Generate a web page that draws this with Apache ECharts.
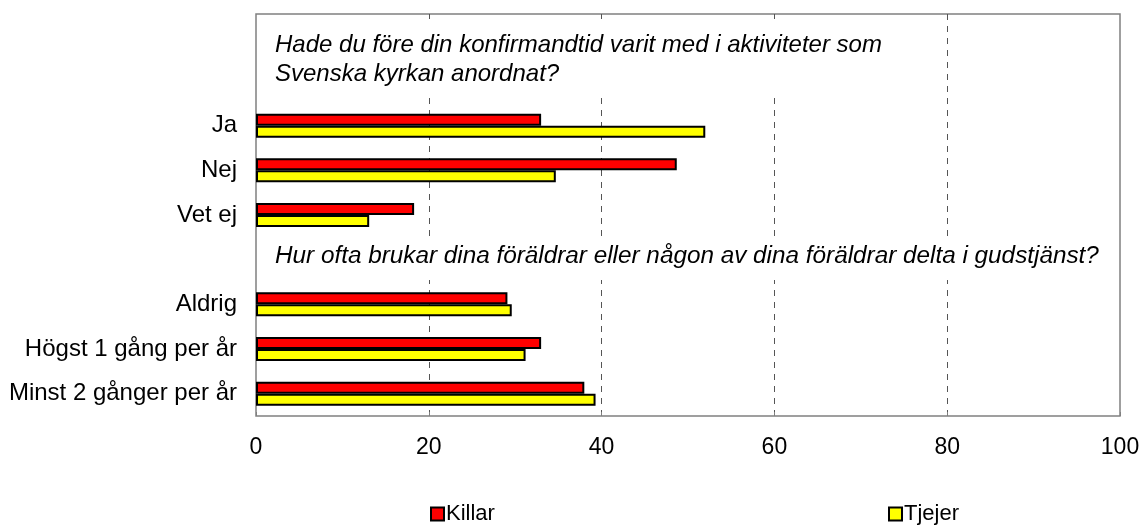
<!DOCTYPE html>
<html lang="sv">
<head>
  <meta charset="UTF-8">
  <title>Konfirmander</title>
  <style>
    html, body { margin: 0; padding: 0; background: #fff; }
    #chart { width: 1144px; height: 527px; }
  </style>
</head>
<body>
  <div id="chart"></div>
  <script src="https://cdn.jsdelivr.net/npm/echarts@6/dist/echarts.min.js"></script>
  <script>
    // rader uppifrån och ned, tomma rader ger plats för frågetexterna
    var categories = ['', '', 'Ja', 'Nej', 'Vet ej', '', 'Aldrig', 'Högst 1 gång per år', 'Minst 2 gånger per år'];
    var killar = [null, null, 33.0, 48.7, 18.3, null, 29.1, 33.0, 38.0];
    var tjejer = [null, null, 52.0, 34.7, 13.1, null, 29.6, 31.2, 39.3];
    var xTicks = [0, 20, 40, 60, 80, 100];

    var fraga1 = 'Hade du före din konfirmandtid varit med i aktiviteter som\nSvenska kyrkan anordnat?';
    var fraga2 = 'Hur ofta brukar dina föräldrar eller någon av dina föräldrar delta i gudstjänst?';

    var font = '"Liberation Sans", Arial, sans-serif';
    var chart = echarts.init(document.getElementById('chart'));

    var legendText = { fontSize: 22, color: '#000', fontFamily: font, padding: [0, 0, 0, -3] };

    var option = {
      animation: false,
      textStyle: { fontFamily: font },
      grid: {
        left: 256,
        right: 24,
        top: 14,
        bottom: 111,
        show: true,
        borderColor: '#808080',
        borderWidth: 1.5,
        backgroundColor: '#fff'
      },
      legend: [
        {
          left: 425, top: 498,
          itemWidth: 13, itemHeight: 13, itemGap: 4,
          textStyle: legendText,
          itemStyle: { borderWidth: 2 },
          data: [{ name: 'Killar', icon: 'rect' }]
        },
        {
          left: 883, top: 498,
          itemWidth: 13, itemHeight: 13, itemGap: 4,
          textStyle: legendText,
          itemStyle: { borderWidth: 2 },
          data: [{ name: 'Tjejer', icon: 'rect' }]
        }
      ],
      xAxis: {
        type: 'value',
        min: xTicks[0],
        max: xTicks[xTicks.length - 1],
        interval: 20,
        axisLine: { show: false },
        axisTick: { show: true, inside: true, length: 4, lineStyle: { color: '#808080' } },
        axisLabel: { fontSize: 23, color: '#000', margin: 20, fontFamily: font },
        splitLine: {
          show: true,
          showMinLine: false,
          showMaxLine: false,
          lineStyle: { color: '#555', type: [6, 6], width: 1 }
        }
      },
      yAxis: {
        type: 'category',
        inverse: true,
        data: categories,
        axisLine: { show: false },
        axisTick: { show: false },
        axisLabel: { fontSize: 24, color: '#000', margin: 19, fontFamily: font },
        splitLine: { show: false }
      },
      graphic: [
        {
          type: 'rect', z: 50,
          shape: { x: 260, y: 19, width: 680, height: 78 },
          style: { fill: '#fff' }
        },
        {
          type: 'text', z: 51, x: 275, y: 31,
          style: { text: fraga1, font: 'italic 24px ' + font, fill: '#000', lineHeight: 29 }
        },
        {
          type: 'rect', z: 50,
          shape: { x: 268, y: 236, width: 845, height: 44 },
          style: { fill: '#fff' }
        },
        {
          type: 'text', z: 51, x: 275, y: 244,
          style: { text: fraga2, font: 'italic 24.3px ' + font, fill: '#000' }
        }
      ],
      series: [
        {
          name: 'Killar',
          type: 'bar',
          data: killar,
          barWidth: 12,
          barGap: '0%',
          itemStyle: { color: '#ff0000', borderColor: '#000', borderWidth: 2 }
        },
        {
          name: 'Tjejer',
          type: 'bar',
          data: tjejer,
          barWidth: 12,
          barGap: '0%',
          itemStyle: { color: '#ffff00', borderColor: '#000', borderWidth: 2 }
        }
      ]
    };

    chart.setOption(option);
  </script>
</body>
</html>
